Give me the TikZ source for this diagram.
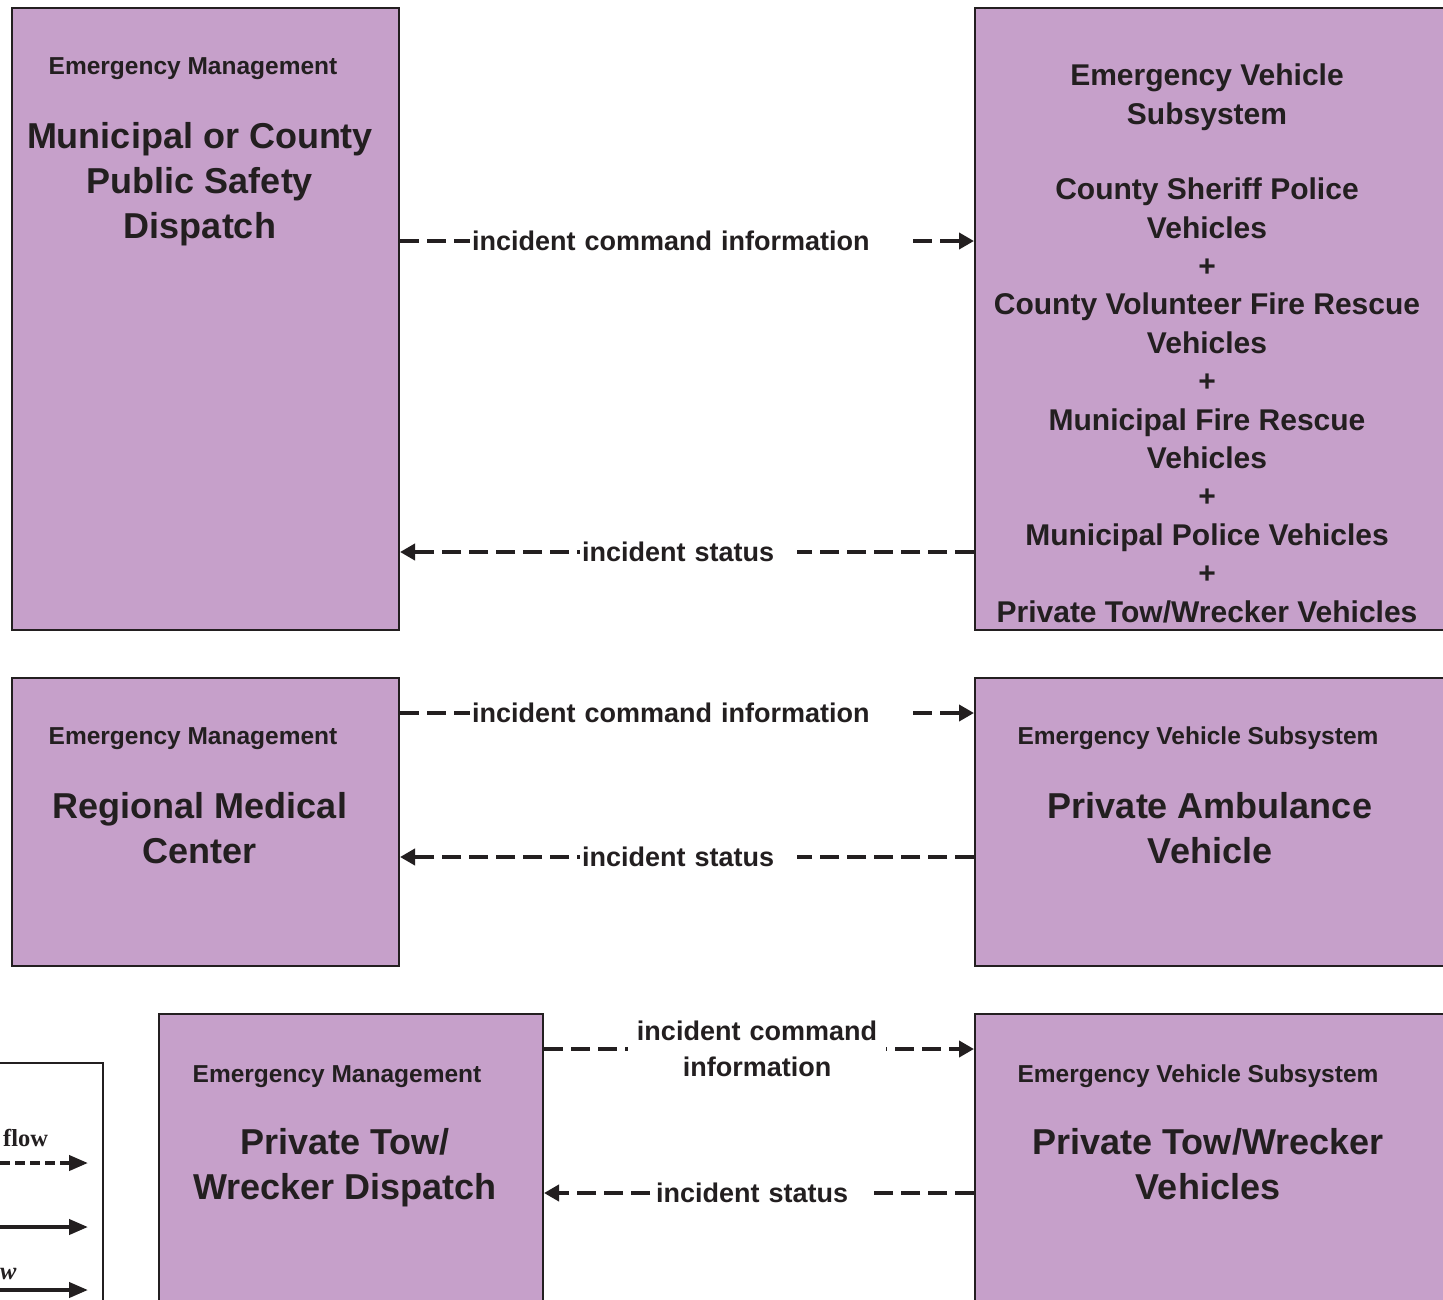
\documentclass[tikz,border=0pt]{standalone}
\usepackage{fontspec}
\setmainfont{Liberation Sans}
\newfontfamily\legendfont{Liberation Serif}
\usetikzlibrary{arrows.meta,positioning}
\definecolor{lilac}{RGB}{198,160,202}
\definecolor{ink}{RGB}{35,31,32}

\begin{document}
\begin{tikzpicture}[
  x=1pt, y=-1pt,
  box/.style={draw=ink, line width=2pt, fill=lilac, anchor=north west, inner sep=0pt},
  kind/.style={font=\bfseries\fontsize{24.5}{30}\selectfont, text=ink, anchor=base},
  title/.style={font=\bfseries\fontsize{36}{45}\selectfont, text=ink, align=center, anchor=north, inner sep=0pt},
  sub/.style={font=\bfseries\fontsize{30}{38.4}\selectfont, text=ink, align=center, anchor=north, inner sep=0pt},
  lbl/.style={font=\bfseries\fontsize{27}{36}\selectfont, text=ink, fill=white, inner xsep=2pt, inner ysep=4pt, anchor=west},
  flow/.style={draw=ink, line width=4pt, dash pattern=on 19pt off 8pt, -{Triangle[length=15pt,width=16pt]}},
  legarrow/.style={draw=ink, line width=4pt, -{Triangle[length=19pt,width=15pt]}},
  legtext/.style={font=\legendfont\bfseries\fontsize{24.5}{30}\selectfont, text=ink}
]
\useasboundingbox[fill=white] (0,0) rectangle (1443,1299);
\clip (0,0) rectangle (1443,1299);

% centers and vehicles
\node[box, minimum width=387, minimum height=622] (mcd) at (11,7) {};
\node[box, minimum width=476, minimum height=622] (evs) at (974,7) {};
\node[box, minimum width=387, minimum height=288] (rmc) at (11,677) {};
\node[box, minimum width=476, minimum height=288] (pav) at (974,677) {};
\node[box, minimum width=384, minimum height=320] (ptd) at (158,1013) {};
\node[box, minimum width=476, minimum height=320] (ptv) at (974,1013) {};

\node[kind] (mcd-kind) at (193,74) {Emergency Management};
\node[title] (mcd-name) at (200,122) {Municipal or County\\Public Safety\\Dispatch};
\node[sub] (evs-name) at (1207,64) {Emergency Vehicle\\Subsystem\\[37pt]County Sheriff Police\\Vehicles\\+\\County Volunteer Fire Rescue\\Vehicles\\+\\Municipal Fire Rescue\\Vehicles\\+\\Municipal Police Vehicles\\+\\Private Tow/Wrecker Vehicles};

\node[kind] (rmc-kind) at (193,744) {Emergency Management};
\node[title] (rmc-name) at (200,792) {Regional Medical\\Center};
\node[kind] (pav-kind) at (1198,744) {Emergency Vehicle Subsystem};
\node[title] (pav-name) at (1210,792) {Private Ambulance\\Vehicle};

\node[kind] (ptd-kind) at (337,1082) {Emergency Management};
\node[title] (ptd-name) at (345,1128) {Private Tow/\\Wrecker Dispatch};
\node[kind] (ptv-kind) at (1198,1082) {Emergency Vehicle Subsystem};
\node[title] (ptv-name) at (1208,1128) {Private Tow/Wrecker\\Vehicles};

% flows
\draw[flow] (mcd.east |- 0,241) -- (evs.west |- 0,241)
  node[lbl, text width=433, align=left] (cmd1) at (468,241) {incident command information};
\draw[flow] (evs.west |- 0,552) -- (mcd.east |- 0,552)
  node[lbl, text width=213, align=left] (sts1) at (578,552) {incident status};
\draw[flow] (rmc.east |- 0,713) -- (pav.west |- 0,713)
  node[lbl, text width=433, align=left] (cmd2) at (468,713) {incident command information};
\draw[flow] (pav.west |- 0,857) -- (rmc.east |- 0,857)
  node[lbl, text width=213, align=left] (sts2) at (578,857) {incident status};
\draw[flow] (ptd.east |- 0,1049) -- (ptv.west |- 0,1049)
  node[lbl, text width=254, align=center] (cmd3) at (626,1049) {incident command\\information};
\draw[flow] (ptv.west |- 0,1193) -- (ptd.east |- 0,1193)
  node[lbl, text width=212, align=left] (sts3) at (652,1193) {incident status};

% legend
\node[draw=ink, line width=2pt, fill=white, anchor=north west, minimum width=302, minimum height=300] (legend) at (-200,1062) {};
\node[legtext, anchor=base west, inner sep=0pt] (lg-flow) at (3,1146) {flow};
\node[legtext, font=\legendfont\bfseries\itshape\fontsize{24.5}{30}\selectfont, anchor=base west, inner sep=0pt] (lg-w) at (0,1279) {w};
\coordinate (lg1a) at (-60,1163);
\coordinate (lg1b) at (88,1163);
\coordinate (lg2a) at (-60,1227);
\coordinate (lg2b) at (88,1227);
\coordinate (lg3a) at (-60,1290);
\coordinate (lg3b) at (88,1290);
\draw[legarrow, dash pattern=on 10pt off 5pt] (lg1a) -- (lg1b);
\draw[legarrow] (lg2a) -- (lg2b);
\draw[legarrow] (lg3a) -- (lg3b);
\end{tikzpicture}
\end{document}
